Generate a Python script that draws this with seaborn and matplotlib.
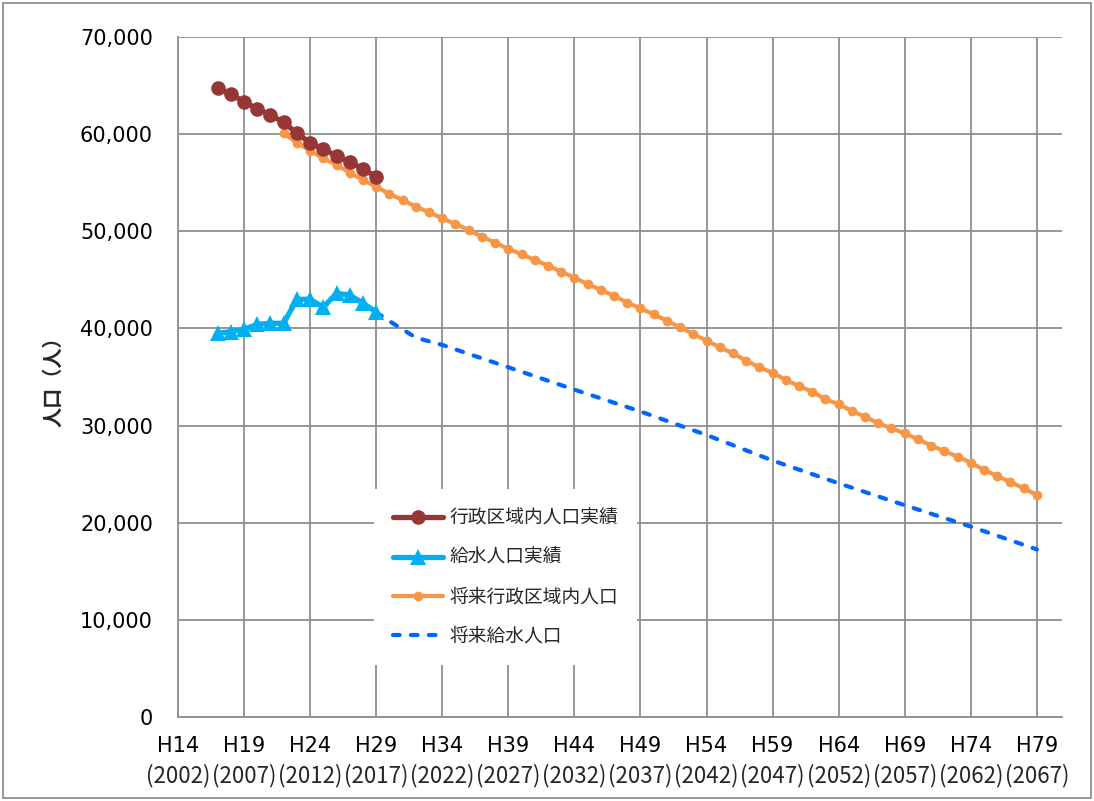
import matplotlib
matplotlib.use("Agg")
import matplotlib.pyplot as plt
import seaborn as sns
import pandas as pd
from matplotlib.patches import Rectangle

# heisei years on the x axis, values in persons
actual_years = list(range(17, 30))
admin_actual = [64720, 64100, 63340, 62590, 61970, 61220, 60090,
                59120, 58470, 57750, 57160, 56410, 55620]
supply_actual = [39500, 39660, 39910, 40420, 40530, 40530, 43000,
                 43000, 42180, 43620, 43440, 42590, 41700]

future_years = list(range(22, 80))
admin_future = [60080, 59120, 58300, 57510, 56820, 56030, 55280, 54590,
                53840, 53220, 52530, 51960, 51340, 50750, 50130, 49440,
                48830, 48180, 47630, 47050, 46460, 45840, 45220, 44570,
                43960, 43370, 42650, 42070, 41450, 40800, 40110, 39430,
                38740, 38060, 37440, 36680, 35990, 35440, 34690, 34070,
                33490, 32700, 32200, 31500, 30910, 30230, 29720, 29200,
                28590, 27930, 27380, 26800, 26180, 25430, 24810, 24190,
                23540, 22850]

supply_future_years = [29, 30, 31, 32, 34, 39, 44, 49, 54, 59, 64, 69, 74, 79]
supply_future = [41650, 40750, 39900, 39050, 38300, 36000, 33700, 31450,
                 29030, 26400, 24060, 21800, 19600, 17250]

tick_years = list(range(14, 80, 5))
tick_h = [f"H{y}" for y in tick_years]
tick_ad = [f"({y + 1988})" for y in tick_years]

labels = ["行政区域内人口実績", "給水人口実績", "将来行政区域内人口", "将来給水人口"]

sns.set_style("white")
plt.rcParams["font.family"] = ["DejaVu Sans", "Noto Sans CJK JP"]

fig = plt.figure(figsize=(10.94, 8.01), dpi=100)
ax = fig.add_axes([0.1627, 0.1049, 0.808, 0.8489])

grid_c = "#8f8f8f"

# future series first so the actual ones sit on top
sns.lineplot(x=future_years, y=admin_future, ax=ax, color="#F79646",
             linewidth=3, marker="o", markersize=7, markeredgewidth=0,
             markeredgecolor="#F79646", label=labels[2], zorder=3)
sns.lineplot(x=supply_future_years, y=supply_future, ax=ax, color="#0066FF",
             linewidth=3, linestyle=(0, (1.6, 2.7)), label=labels[3], zorder=3)
sns.lineplot(x=actual_years, y=admin_actual, ax=ax, color="#953735",
             linewidth=3.8, marker="o", markersize=10.5, markeredgewidth=0,
             markeredgecolor="#953735", label=labels[0], zorder=4)
sns.lineplot(x=actual_years, y=supply_actual, ax=ax, color="#00B0F0",
             linewidth=3.8, marker="^", markersize=11.5, markeredgewidth=0,
             markeredgecolor="#00B0F0", label=labels[1], zorder=4)
for ln in ax.get_lines():
    if ln.get_label() == labels[3]:
        ln.set_dash_capstyle("round")

ax.set_xlim(14, 80.9)
ax.set_ylim(0, 70000)
ax.set_yticks(range(0, 70001, 10000))
ax.set_yticklabels([f"{v:,}" for v in range(0, 70001, 10000)])
ax.set_xticks(tick_years)
ax.set_xticklabels(tick_h)
# western years as a second row of labels under the heisei ones
ax.xaxis.remove_overlapping_locs = False
ax.set_xticks(tick_years, minor=True)
ax.set_xticklabels(tick_ad, minor=True, family=["Noto Sans CJK JP"], fontsize=16)
ax.grid(True, which="major", color=grid_c, linewidth=1.3)
ax.set_axisbelow(True)
for s in ["top", "right"]:
    ax.spines[s].set_visible(False)
for s in ["left", "bottom"]:
    ax.spines[s].set_color(grid_c)
    ax.spines[s].set_linewidth(1.3)
ax.tick_params(axis="both", which="major", direction="out", length=6, width=1.3,
               color=grid_c, labelsize=15, labelcolor="black")
ax.tick_params(axis="x", which="major", pad=8)
ax.tick_params(axis="x", which="minor", length=0, pad=34)
ax.tick_params(axis="y", pad=12)
ax.set_xlabel("")
ax.set_ylabel("人口（人）", family=["Noto Sans CJK JP"], fontsize=14.5,
              fontweight="bold", labelpad=12)

handles, labs = ax.get_legend_handles_labels()
order = [labs.index(t) for t in labels]
leg = ax.legend([handles[i] for i in order], [labs[i] for i in order],
                loc="upper left", bbox_to_anchor=(0.2217, 0.335),
                borderaxespad=0, frameon=True, fancybox=False,
                facecolor="white", edgecolor="none", framealpha=1,
                prop={"family": ["Noto Sans CJK JP"], "size": 13.5},
                handlelength=2.7, handletextpad=0.35, labelspacing=0.97,
                borderpad=1.0)
leg.set_zorder(5)

fig.patches.append(Rectangle((0.003, 0.004), 0.994, 0.992, transform=fig.transFigure,
                             fill=False, edgecolor="#868686", linewidth=1.2))

fig.savefig("out.png", dpi=100)
